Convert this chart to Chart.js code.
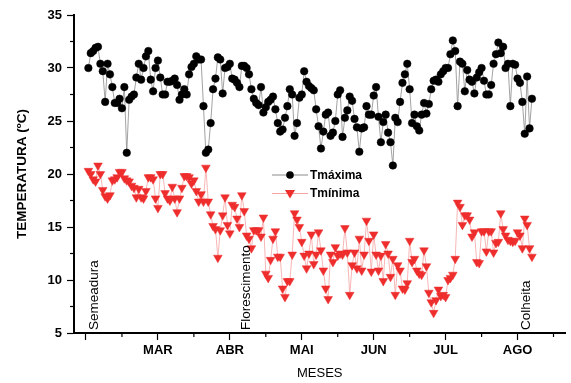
<!DOCTYPE html>
<html lang="pt">
<head>
<meta charset="UTF-8">
<title>Temperatura máxima e mínima</title>
<script src="https://cdn.jsdelivr.net/npm/chart.js"></script>
<style>
    html, body { margin: 0; padding: 0; background: #fff; }
    #wrap { width: 571px; height: 383px; }
</style>
</head>
<body>
<div id="wrap"><canvas id="grafico" width="571" height="383"></canvas></div>
<script>
// dados diarios, dia 1 = primeiro dia apos a semeadura
const diaInicial = 1;

const tMax = [
    30.0, 31.4, 31.6, 31.9, 32.0, 30.4, 29.7, 26.8, 30.4, 29.4,
    28.2, 26.7, 26.7, 27.1, 26.2, 28.2, 22.0, 27.0, 27.3, 27.5,
    29.1, 30.4, 28.9, 30.0, 31.1, 31.6, 28.9, 27.8, 30.0, 30.7,
    29.1, 27.5, 27.5, 28.7, 28.7, 28.8, 29.0, 28.4, 27.0, 27.5,
    28.0, 27.5, 29.4, 30.1, 30.4, 31.1, 30.8, 30.8, 26.4, 22.0,
    22.3, 24.8, 28.0, 29.0, 31.0, 30.8, 27.6, 30.0, 30.1, 30.4,
    29.0, 28.9, 28.6, 28.2, 30.2,
    30.2, 30.0, 29.4, 28.0, 27.1, 26.7, 26.5, 28.2, 25.8, 26.3,
    26.8, 27.0, 27.3, 26.1, 24.8, 24.0, 24.2, 25.3, 26.4, 28.0,
    27.5, 23.6, 24.8, 27.2, 27.5, 29.7, 28.7, 28.3, 28.1, 27.9,
    26.1, 24.5, 22.4, 24.0, 25.6, 25.8, 23.6, 23.9, 25.0, 27.5,
    27.9, 23.5, 25.3, 26.0, 27.3, 26.9, 25.2, 24.4, 22.1, 24.3,
    24.4, 26.4, 25.6, 25.6, 27.4, 28.2, 25.4, 23.0, 24.9, 25.6,
    23.9, 23.0, 20.8, 25.3, 24.9, 26.8,
    28.6, 29.4, 30.4, 28.0, 24.8, 25.6, 24.5, 24.1, 25.6, 26.7,
    25.7, 26.6, 28.0, 28.8, 28.9, 28.7, 29.4, 29.7, 30.0, 30.0,
    31.3, 32.6, 31.6, 26.4, 30.6, 30.4, 27.8, 29.8, 28.9, 28.7,
    27.6, 29.1, 29.6, 30.0, 28.8, 27.5, 27.5, 28.4, 30.4, 31.3,
    32.4, 31.4, 32.0, 30.0, 30.4, 26.4, 30.4, 30.3, 29.0, 28.6,
    26.8, 23.8, 29.2, 24.3, 27.1
];

const tMin = [
    20.3, 20.0, 19.5, 19.3, 20.8, 20.0, 18.5, 17.9, 17.7, 18.0,
    19.4, 19.5, 19.7, 20.2, 20.2, 19.6, 19.4, 19.3, 18.9, 18.7,
    17.8, 18.6, 17.8, 17.7, 18.4, 19.7, 19.7, 19.5, 17.7, 16.8,
    20.0, 20.0, 18.2, 17.7, 17.5, 18.8, 17.7, 16.4, 17.7, 18.7,
    19.8, 19.8, 19.7, 19.1, 19.4, 18.4, 17.4, 18.1, 17.4, 20.6,
    17.4, 16.2, 15.1, 14.8, 12.1, 14.7, 16.1, 17.8, 15.2, 14.4,
    17.1, 16.9, 15.8, 15.0, 18.0,
    16.5, 14.2, 13.9, 13.0, 14.7, 14.7, 14.7, 14.1, 15.9, 10.6,
    10.2, 11.9, 13.9, 14.6, 12.2, 12.2, 9.2, 8.4, 9.9, 9.9,
    12.4, 16.3, 15.7, 15.0, 13.6, 12.3, 11.1, 12.5, 14.3, 11.5,
    12.4, 14.5, 12.8, 10.9, 9.2, 8.2, 12.4, 11.7, 13.1, 12.3,
    12.5, 12.4, 14.9, 12.6, 8.6, 11.4, 12.6, 11.1, 13.9, 10.9,
    12.4, 15.6, 13.7, 10.8, 14.3, 12.4, 10.9, 12.3, 9.9, 13.4,
    12.5, 10.3, 12.0, 8.6, 11.4, 10.9,
    9.2, 9.1, 9.7, 13.7, 11.7, 12.0, 10.9, 10.6, 10.5, 12.8,
    11.3, 8.8, 7.9, 6.9, 8.1, 9.1, 8.5, 8.6, 8.4, 10.0,
    10.2, 10.5, 12.0, 17.3, 16.9, 15.2, 16.1, 16.1, 15.7, 14.1,
    14.5, 11.7, 11.6, 14.6, 14.6, 12.7, 14.6, 14.6, 12.6, 13.5,
    13.6, 16.3, 14.8, 14.2, 13.8, 13.7, 13.6, 13.7, 14.5, 14.2,
    13.0, 15.8, 15.2, 13.0, 12.2
];

// marcas de mes a cada 30 dias
const meses = ['MAR', 'ABR', 'MAI', 'JUN', 'JUL', 'AGO'];
const diasMeses = [30, 60, 90, 120, 150, 180];

// fases da cultura
const eventos = ['Semeadura', 'Florescimento', 'Colheita'];
const diasEventos = [3.5, 67, 183.6];

const nomes = ['Tmáxima', 'Tmínima'];

const fonte = '"Liberation Sans", Arial, sans-serif';
Chart.defaults.font.family = fonte;
Chart.defaults.color = '#000';

const pontos = arr => arr.map((v, i) => ({ x: diaInicial + i, y: v }));

const extras = {
    id: 'extras',
    afterDraw(chart) {
        const { ctx, chartArea: a, scales: { x, y } } = chart;
        ctx.save();
        ctx.strokeStyle = '#000';
        ctx.lineWidth = 1.2;
        // ticks menores
        for (let d = 15; d <= 195; d += 30) {
            const px = x.getPixelForValue(d);
            ctx.beginPath(); ctx.moveTo(px, a.bottom); ctx.lineTo(px, a.bottom + 4); ctx.stroke();
        }
        for (let t = 7.5; t < 35; t += 5) {
            const py = y.getPixelForValue(t);
            ctx.beginPath(); ctx.moveTo(a.left, py); ctx.lineTo(a.left - 4, py); ctx.stroke();
        }

        // textos das fases
        ctx.fillStyle = '#000';
        ctx.font = '13.5px ' + fonte;
        ctx.textAlign = 'left';
        ctx.textBaseline = 'middle';
        eventos.forEach((txt, i) => {
            const px = x.getPixelForValue(diasEventos[i]);
            ctx.save();
            ctx.translate(px, a.bottom - 3);
            ctx.rotate(-Math.PI / 2);
            ctx.fillText(txt, 0, 0);
            ctx.restore();
        });

        // legenda
        const lx = 272, ly = 175;
        chart.data.datasets.forEach((ds, i) => {
            const yy = ly + i * 18.5;
            ctx.strokeStyle = ds.borderColor;
            ctx.lineWidth = 1;
            ctx.beginPath(); ctx.moveTo(lx, yy); ctx.lineTo(lx + 36, yy); ctx.stroke();
            ctx.fillStyle = ds.pointBackgroundColor;
            if (i === 0) {
                ctx.beginPath(); ctx.arc(lx + 18, yy, 3.8, 0, Math.PI * 2); ctx.fill();
            } else {
                ctx.beginPath();
                ctx.moveTo(lx + 13, yy - 3.5); ctx.lineTo(lx + 23, yy - 3.5); ctx.lineTo(lx + 18, yy + 5);
                ctx.closePath(); ctx.fill();
            }
            ctx.fillStyle = '#000';
            ctx.font = 'bold 12px ' + fonte;
            ctx.fillText(ds.label, lx + 38, yy + 0.5);
        });
        ctx.restore();
    }
};

new Chart(document.getElementById('grafico'), {
    type: 'line',
    data: {
        datasets: [
            {
                label: nomes[0],
                data: pontos(tMax),
                borderColor: '#8a8a8a',
                borderWidth: 0.8,
                pointStyle: 'circle',
                pointRadius: 3.8,
                pointBackgroundColor: '#000',
                pointBorderColor: '#000',
                pointBorderWidth: 0.5
            },
            {
                label: nomes[1],
                data: pontos(tMin),
                borderColor: '#f5a3a3',
                borderWidth: 0.8,
                pointStyle: 'triangle',
                pointRotation: 180,
                pointRadius: 5,
                pointBackgroundColor: '#ee2d2d',
                pointBorderColor: '#ee2d2d',
                pointBorderWidth: 0.5
            }
        ]
    },
    options: {
        responsive: false,
        animation: false,
        devicePixelRatio: 1,
        layout: { padding: { top: 15, right: 0, left: 0, bottom: 0 } },
        plugins: { legend: { display: false }, tooltip: { enabled: false } },
        scales: {
            x: {
                type: 'linear',
                min: -5,
                max: 200,
                afterFit: s => { s.height = 50; },
                border: { display: true, color: '#000', width: 2 },
                grid: {
                    drawOnChartArea: false,
                    tickLength: 7,
                    tickWidth: 1.2,
                    tickColor: c => (c.tick && c.tick.value % 30 === 0) ? '#000' : 'rgba(0,0,0,0)'
                },
                ticks: {
                    stepSize: 15,
                    includeBounds: false,
                    autoSkip: false,
                    maxRotation: 0,
                    padding: 3,
                    font: { size: 13, weight: 'bold' },
                    callback: v => {
                        const k = diasMeses.indexOf(v);
                        return k >= 0 ? meses[k] : '';
                    }
                },
                title: {
                    display: true,
                    text: 'MESES',
                    font: { size: 13 },
                    padding: { top: 0, bottom: 2 }
                }
            },
            y: {
                min: 5,
                max: 35,
                afterFit: s => { s.width = 74; },
                border: { display: true, color: '#000', width: 2 },
                grid: {
                    drawOnChartArea: false,
                    tickLength: 7,
                    tickWidth: 1.2,
                    tickColor: c => (c.tick && c.tick.value % 5 === 0) ? '#000' : 'rgba(0,0,0,0)'
                },
                ticks: {
                    stepSize: 2.5,
                    autoSkip: false,
                    padding: 5,
                    font: { size: 13, weight: 'bold' },
                    callback: v => v % 5 === 0 ? v : ''
                },
                title: {
                    display: true,
                    text: 'TEMPERATURA (ºC)',
                    font: { size: 13.5, weight: 'bold' },
                    padding: { top: 14, bottom: 0 }
                }
            }
        }
    },
    plugins: [extras]
});
</script>
</body>
</html>
